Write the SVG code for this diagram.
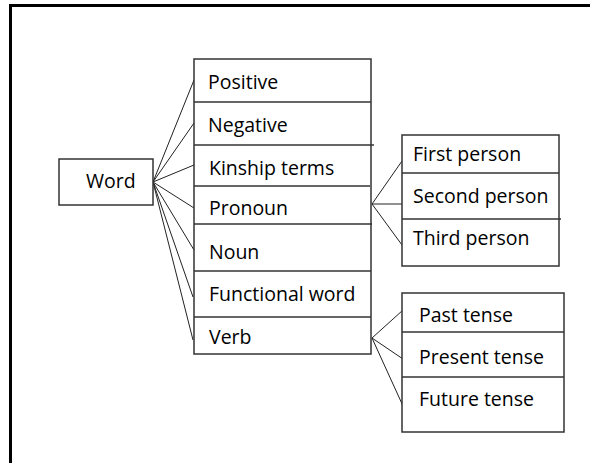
<svg xmlns="http://www.w3.org/2000/svg" width="590" height="463" viewBox="0 0 590 463">
<style>
.box{fill:#fff;stroke:#333;stroke-width:1.5}
.div{stroke:#333;stroke-width:1.5;fill:none}
.ln{stroke:#222;stroke-width:1;fill:none}
text{font-family:"Open Sans","Liberation Sans",sans-serif;font-size:19.5px;fill:#000}
</style>
<rect width="590" height="463" fill="#fff"/>
<g id="frame">
<line x1="9" y1="5.5" x2="590" y2="5.5" stroke="#000" stroke-width="3"/>
<line x1="10.5" y1="4" x2="10.5" y2="463" stroke="#000" stroke-width="3"/>
</g>
<g id="connectors">
<line class="ln" x1="153" y1="182" x2="194" y2="80"/>
<line class="ln" x1="153" y1="182" x2="194" y2="123"/>
<line class="ln" x1="153" y1="182" x2="194" y2="165"/>
<line class="ln" x1="153" y1="182" x2="194" y2="208"/>
<line class="ln" x1="153" y1="182" x2="194" y2="250"/>
<line class="ln" x1="153" y1="182" x2="193" y2="297"/>
<line class="ln" x1="153" y1="182" x2="193" y2="340"/>
<line class="ln" x1="372" y1="204" x2="402" y2="161"/>
<line class="ln" x1="372" y1="204" x2="402" y2="204"/>
<line class="ln" x1="372" y1="204" x2="402" y2="245"/>
<line class="ln" x1="372" y1="338" x2="403" y2="310"/>
<line class="ln" x1="372" y1="338" x2="403" y2="359"/>
<line class="ln" x1="372" y1="338" x2="403" y2="406"/>
</g>
<g id="word">
<rect class="box" x="59" y="159" width="94" height="46"/>
<text x="86" y="188">Word</text>
</g>
<g id="categories">
<rect class="box" x="194" y="59" width="177" height="295"/>
<line class="div" x1="194" y1="102" x2="371" y2="102"/>
<line class="div" x1="194" y1="145" x2="374" y2="145"/>
<line class="div" x1="194" y1="186" x2="370" y2="186"/>
<line class="div" x1="194" y1="224" x2="372" y2="224"/>
<line class="div" x1="194" y1="271" x2="371" y2="271"/>
<line class="div" x1="194" y1="317" x2="371" y2="317"/>
<g id="positive"><text x="208" y="89">Positive</text></g>
<g id="negative"><text x="208" y="132">Negative</text></g>
<g id="kinship"><text x="209" y="175">Kinship terms</text></g>
<g id="pronoun"><text x="209" y="215">Pronoun</text></g>
<g id="noun"><text x="209" y="259">Noun</text></g>
<g id="functional"><text x="209" y="301">Functional word</text></g>
<g id="verb"><text x="209" y="344">Verb</text></g>
</g>
<g id="persons">
<rect class="box" x="402" y="135" width="157" height="131"/>
<line class="div" x1="402" y1="173" x2="559" y2="173"/>
<line class="div" x1="402" y1="219" x2="561" y2="219"/>
<g id="first"><text x="413" y="161">First person</text></g>
<g id="second"><text x="413" y="203">Second person</text></g>
<g id="third"><text x="413" y="245">Third person</text></g>
</g>
<g id="tenses">
<rect class="box" x="402" y="293" width="162" height="139"/>
<line class="div" x1="402" y1="332" x2="564" y2="332"/>
<line class="div" x1="402" y1="377" x2="564" y2="377"/>
<g id="past"><text x="419" y="322">Past tense</text></g>
<g id="present"><text x="419" y="364">Present tense</text></g>
<g id="future"><text x="419" y="406">Future tense</text></g>
</g>
</svg>
